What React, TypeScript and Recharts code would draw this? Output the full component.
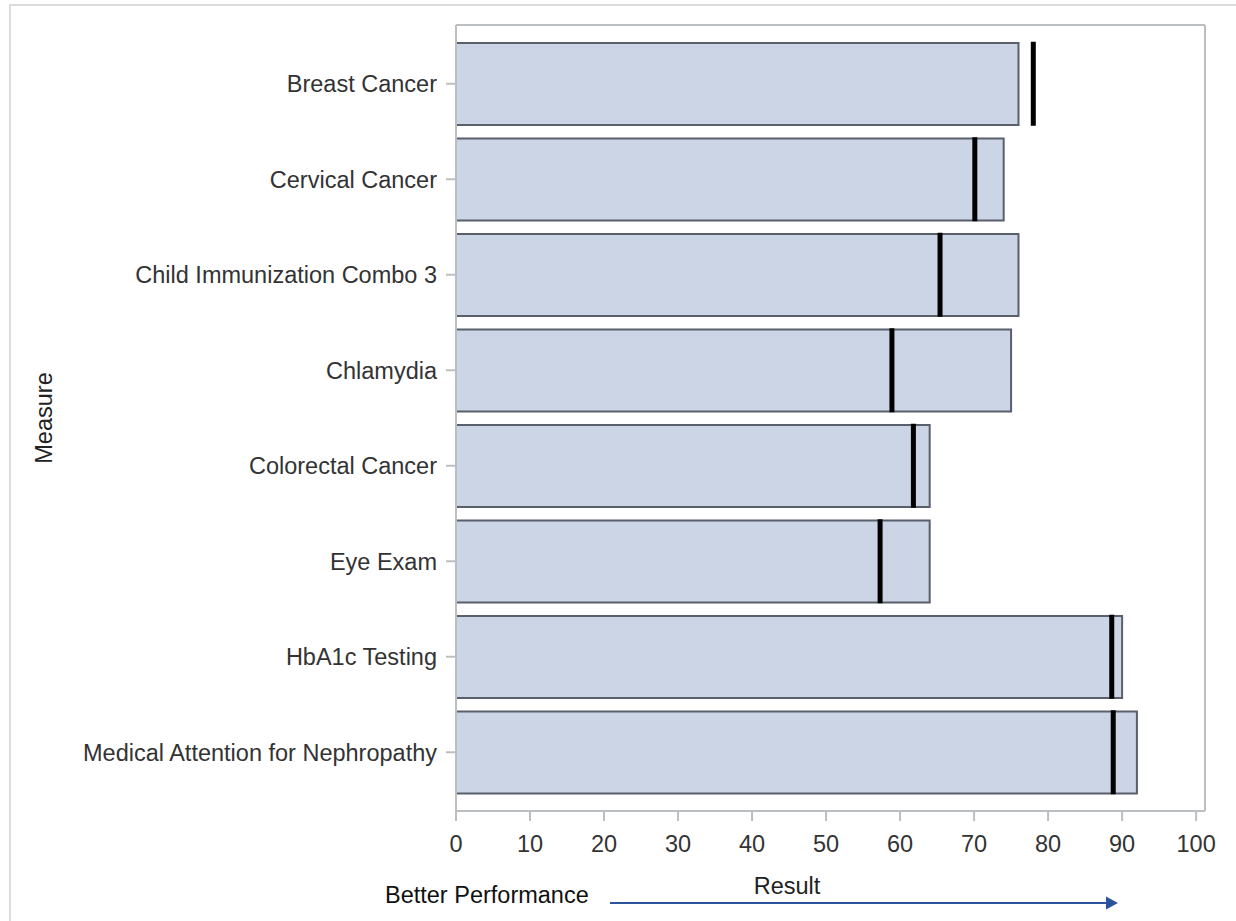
import { ComposedChart, Bar, Scatter, XAxis, YAxis, CartesianGrid } from 'recharts'

const measures = [
  'Breast Cancer',
  'Cervical Cancer',
  'Child Immunization Combo 3',
  'Chlamydia',
  'Colorectal Cancer',
  'Eye Exam',
  'HbA1c Testing',
  'Medical Attention for Nephropathy',
]
const results = [76, 74, 76, 75, 64, 64, 90, 92]
const targets = [78, 70.1, 65.4, 58.9, 61.8, 57.3, 88.6, 88.8]
const xTicks = [0, 10, 20, 30, 40, 50, 60, 70, 80, 90, 100]

const data = measures.map((measure, i) => ({
  measure,
  result: results[i],
  target: targets[i],
}))

const FONT = '"Liberation Sans", Arial, sans-serif'
const FS = 23.5
const BAR_SIZE = 82
const frameColor = '#bcbfc2'

const TargetMark = (props: any) => {
  const { cx, cy } = props
  if (cx == null || cy == null) return null
  return <rect x={cx - 2.5} y={cy - BAR_SIZE / 2 - 1} width={5} height={BAR_SIZE + 2} fill="#000" />
}

// "Result" label plus the Better Performance arrow under the x axis
const AxisNote = (props: any) => {
  const vb = props.viewBox || { x: 456, y: 811, width: 749 }
  const left = vb.x
  const arrowY = 903
  return (
    <g style={{ fontFamily: FONT }}>
      <text x={left + 331} y={894} textAnchor="middle" fontSize={FS} fill="#222">
        Result
      </text>
      <text x={385} y={903} textAnchor="start" fontSize={FS} fill="#111">
        Better Performance
      </text>
      <line x1={610} y1={arrowY} x2={1108} y2={arrowY} stroke="#2c549c" strokeWidth={2} />
      <path d={`M1106,${arrowY - 6.5} L1118,${arrowY} L1106,${arrowY + 6.5} Z`} fill="#2c549c" />
    </g>
  )
}

export default function App() {
  return (
    <div style={{ position: 'absolute', left: 0, top: 0, width: 1236, height: 921, background: '#fff', overflow: 'hidden' }}>
      <div
        style={{
          position: 'absolute',
          left: 9,
          top: 4,
          width: 1250,
          height: 940,
          border: '2px solid #dcdcdc',
        }}
      />
      <ComposedChart
        width={1236}
        height={921}
        data={data}
        layout="vertical"
        margin={{ top: 25, right: 31, left: 20, bottom: 70 }}
        style={{ position: 'absolute', left: 0, top: 0, fontFamily: FONT }}
      >
        <CartesianGrid
          stroke={frameColor}
          strokeWidth={2}
          fill="none"
          verticalCoordinatesGenerator={({ offset }: any) => [offset.left, offset.left + offset.width]}
          horizontalCoordinatesGenerator={({ offset }: any) => [offset.top, offset.top + offset.height]}
        />
        <XAxis
          type="number"
          domain={[0, 101.2]}
          ticks={xTicks}
          interval={0}
          height={40}
          tickSize={10}
          tickMargin={14}
          axisLine={{ stroke: frameColor, strokeWidth: 2 }}
          tickLine={{ stroke: frameColor, strokeWidth: 2 }}
          tick={{ fill: '#333', fontSize: FS, fontFamily: FONT }}
          label={AxisNote}
        />
        <YAxis
          type="category"
          dataKey="measure"
          width={436}
          padding={{ top: 11, bottom: 11 }}
          tickSize={10}
          tickMargin={9}
          interval={0}
          axisLine={{ stroke: frameColor, strokeWidth: 2 }}
          tickLine={{ stroke: frameColor, strokeWidth: 2 }}
          tick={{ fill: '#333', fontSize: FS, fontFamily: FONT }}
          label={{
            value: 'Measure',
            angle: -90,
            position: 'insideLeft',
            offset: 24,
            fill: '#222',
            fontSize: FS,
            style: { textAnchor: 'middle', fontFamily: FONT },
          }}
        />
        <Bar
          dataKey="result"
          barSize={BAR_SIZE}
          fill="#cbd5e5"
          stroke="#5a5f6c"
          strokeWidth={2}
          isAnimationActive={false}
        />
        <Scatter dataKey="target" shape={TargetMark} isAnimationActive={false} />
      </ComposedChart>
    </div>
  )
}
